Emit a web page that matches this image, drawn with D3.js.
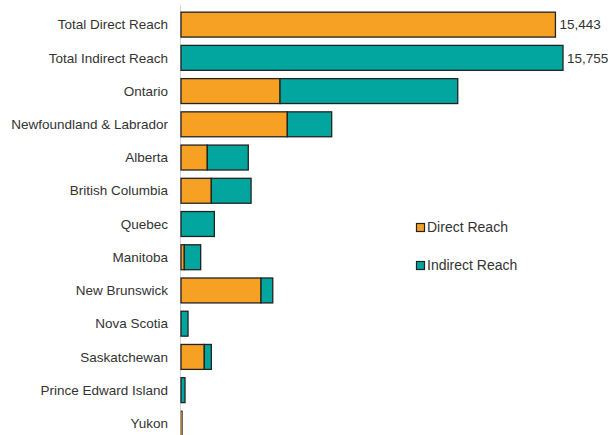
<!DOCTYPE html>
<html>
<head>
<meta charset="utf-8">
<script src="https://cdn.jsdelivr.net/npm/d3@7"></script>
<style>
body{margin:0;background:#fff}
text{font-family:Arial,"Liberation Sans",sans-serif;fill:#333}
</style>
</head>
<body>
<div id="chart"></div>
<script>
var width = 612
var height = 435

var categories = ['Total Direct Reach','Total Indirect Reach','Ontario','Newfoundland & Labrador','Alberta','British Columbia','Quebec','Manitoba','New Brunswick','Nova Scotia','Saskatchewan','Prince Edward Island','Yukon']
var directValues = [15443,0,4084,4385,1085,1250,0,136,3300,0,961,0,60]
var indirectValues = [0,15755,7330,1830,1690,1640,1375,675,485,290,290,165,0]
var totalLabels = ['15,443','15,755','','','','','','','','','','','']
var seriesNames = ['Direct Reach','Indirect Reach']
var colors = ['#F7A124','#03A69E']

var svg = d3.select('#chart')
			.append('svg')
			.attr('width',width)
			.attr('height',height)

var x = d3.scaleLinear().domain([0,15755]).range([181,563])
var y = d3.scaleBand().domain(categories).range([8,440]).paddingInner(0.25).paddingOuter(0.125)

// axis line
svg.append('line')
	.attr('x1',180.5).attr('x2',180.5)
	.attr('y1',5).attr('y2',height)
	.attr('stroke','#d4d4d4')
	.attr('stroke-width',1)

var rows = categories.map(function(c,i){
	return {cat:c, d:directValues[i], ind:indirectValues[i], label:totalLabels[i]}
})

var g = svg.append('g')

// direct part
g.selectAll('rect.direct')
	.data(rows.filter(function(r){return r.d>0}))
	.enter().append('rect')
	.attr('class','direct')
	.attr('x',x(0))
	.attr('y',function(r){return y(r.cat)})
	.attr('width',function(r){return x(r.d)-x(0)})
	.attr('height',y.bandwidth())
	.attr('fill',colors[0])
	.attr('stroke','#222')
	.attr('stroke-width',function(r){return r.d<100 ? 0.6 : 1.3})

// indirect part
g.selectAll('rect.indirect')
	.data(rows.filter(function(r){return r.ind>0}))
	.enter().append('rect')
	.attr('class','indirect')
	.attr('x',function(r){return x(r.d)})
	.attr('y',function(r){return y(r.cat)})
	.attr('width',function(r){return x(r.d+r.ind)-x(r.d)})
	.attr('height',y.bandwidth())
	.attr('fill',colors[1])
	.attr('stroke','#222')
	.attr('stroke-width',1.3)

// category labels
svg.selectAll('text.cat')
	.data(categories)
	.enter().append('text')
	.attr('class','cat')
	.attr('x',168)
	.attr('y',function(c){return y(c)+y.bandwidth()/2})
	.attr('dy','0.35em')
	.attr('text-anchor','end')
	.style('font-size','13.5px')
	.text(function(c){return c})

// total labels
svg.selectAll('text.total')
	.data(rows.filter(function(r){return r.label}))
	.enter().append('text')
	.attr('class','total')
	.attr('x',function(r){return x(r.d+r.ind)+4})
	.attr('y',function(r){return y(r.cat)+y.bandwidth()/2})
	.attr('dy','0.35em')
	.style('font-size','13.5px')
	.text(function(r){return r.label})

// legend
var legend = svg.selectAll('g.legend')
	.data(seriesNames)
	.enter().append('g')
	.attr('class','legend')
	.attr('transform',function(d,i){return 'translate(416,'+(223+i*38)+')'})

legend.append('rect')
	.attr('x',0.5).attr('y',0.5)
	.attr('width',8).attr('height',8)
	.attr('fill',function(d,i){return colors[i]})
	.attr('stroke','#222')
	.attr('stroke-width',1.2)

legend.append('text')
	.attr('x',11)
	.attr('y',4.5)
	.attr('dy','0.35em')
	.style('font-size','14px')
	.text(function(d){return d})
</script>
</body>
</html>
